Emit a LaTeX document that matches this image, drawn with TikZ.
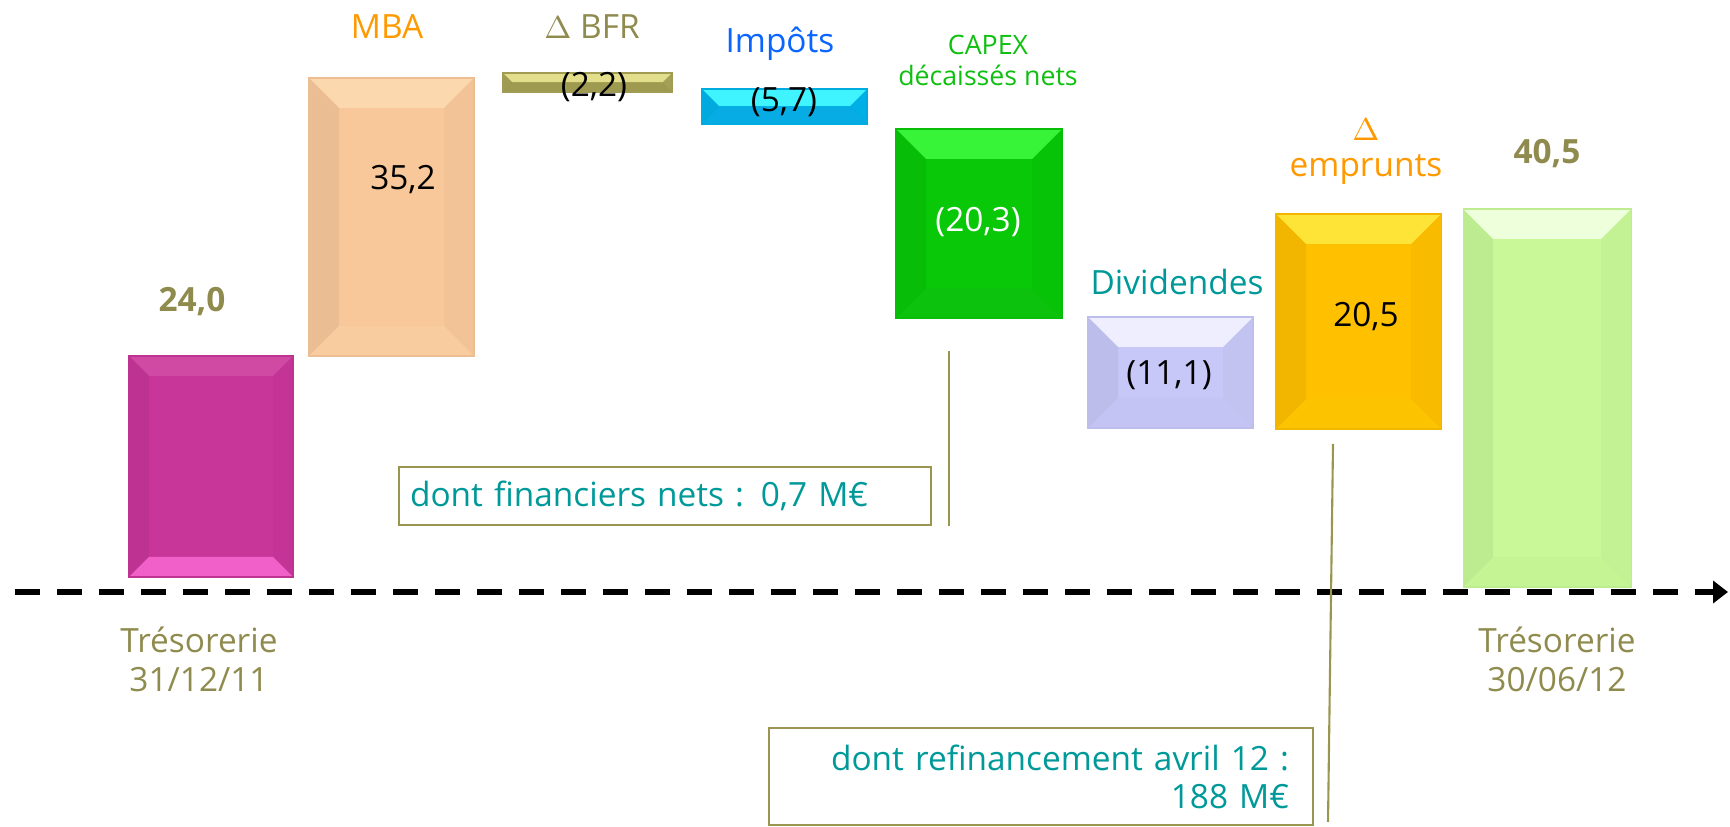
\documentclass[tikz,border=0pt]{standalone}
\usepackage{fontspec}
\setmainfont{Open Sans}
\usetikzlibrary{arrows.meta}
\definecolor{oliveTxt}{HTML}{8F8B4E}
\definecolor{oliveLine}{HTML}{9A9650}
\definecolor{orangeTxt}{HTML}{FF9900}
\definecolor{blueTxt}{HTML}{0A64FF}
\definecolor{greenTxt}{HTML}{10C010}
\definecolor{tealTxt}{HTML}{00999A}
\definecolor{pinkBar}{HTML}{C8369A}\definecolor{pinkTop}{HTML}{D04AA4}\definecolor{pinkBot}{HTML}{F060C8}
\definecolor{peachBar}{HTML}{F8C89A}\definecolor{peachTop}{HTML}{FCD8AE}\definecolor{peachBot}{HTML}{F9CCA0}
\definecolor{bfrBar}{HTML}{A8A458}\definecolor{bfrTop}{HTML}{E2DE8C}\definecolor{bfrBot}{HTML}{9E9A50}
\definecolor{cyanBar}{HTML}{00B4EC}\definecolor{cyanTop}{HTML}{40F4FF}\definecolor{cyanBot}{HTML}{08ACE4}
\definecolor{greenBar}{HTML}{08C808}\definecolor{greenTop}{HTML}{38F438}\definecolor{greenBot}{HTML}{0CC20C}
\definecolor{lavBar}{HTML}{C8C8F8}\definecolor{lavTop}{HTML}{EEEEFF}\definecolor{lavBot}{HTML}{C4C4F4}
\definecolor{goldBar}{HTML}{FFC000}\definecolor{goldTop}{HTML}{FFE438}\definecolor{goldBot}{HTML}{FCC400}
\definecolor{limeBar}{HTML}{C8F898}\definecolor{limeTop}{HTML}{EEFFDC}\definecolor{limeBot}{HTML}{C4F494}
\tikzset{
  bar/.style n args={4}{fill=#1, draw=#1!95!black, line width=0.3pt, anchor=south west,
    minimum width=1.65cm, inner sep=0pt, outer sep=0pt,
    path picture={
      \coordinate (sw) at (path picture bounding box.south west);
      \coordinate (ne) at (path picture bounding box.north east);
      \coordinate (nw) at (sw |- ne);
      \coordinate (se) at (ne |- sw);
      \fill[#2] (nw) -- (ne) -- ([shift={(-#4,-#4)}]ne) -- ([shift={(#4,-#4)}]nw) -- cycle;
      \fill[#3] (sw) -- (se) -- ([shift={(-#4,#4)}]se) -- ([shift={(#4,#4)}]sw) -- cycle;
      \fill[black, opacity=.05] (nw) -- ([shift={(#4,-#4)}]nw) -- ([shift={(#4,#4)}]sw) -- (sw) -- cycle;
      \fill[black, opacity=.025] (ne) -- ([shift={(-#4,-#4)}]ne) -- ([shift={(-#4,#4)}]se) -- (se) -- cycle;
    }},
  lbl/.style={font=\fontsize{9.5}{11}\selectfont, inner sep=0pt, anchor=base, align=center},
  note/.style={draw=oliveLine, line width=0.6pt, text=tealTxt, font=\fontsize{9.5}{10.8}\selectfont,
    anchor=north west, inner ysep=0pt},
  lead/.style={draw=oliveLine, line width=0.6pt},
  axis/.style={line width=1.6pt, dash pattern=on 0.25cm off 0.17cm, -{Triangle[length=0.15cm,width=0.22cm]}}
}
\begin{document}
\begin{tikzpicture}
\useasboundingbox (0,0) rectangle (17.30,8.26);
\node[bar={pinkBar}{pinkTop}{pinkBot}{0.2cm}, minimum width=1.64cm, minimum height=2.21cm] (t1) at (1.29,2.49) {};
\node[bar={peachBar}{peachTop}{peachBot}{0.3cm}, minimum height=2.78cm] (mba) at (3.09,4.70) {};
\node[bar={bfrBar}{bfrTop}{bfrBot}{0.09cm}, minimum width=1.69cm, minimum height=0.19cm] (bfr) at (5.03,7.34) {};
\node[bar={cyanBar}{cyanTop}{cyanBot}{0.17cm}, minimum height=0.35cm] (imp) at (7.02,7.02) {};
\node[bar={greenBar}{greenTop}{greenBot}{0.3cm}, minimum width=1.66cm, minimum height=1.89cm] (capex) at (8.96,5.08) {};
\node[bar={lavBar}{lavTop}{lavBot}{0.3cm}, minimum height=1.11cm] (div) at (10.88,3.98) {};
\node[bar={goldBar}{goldTop}{goldBot}{0.3cm}, minimum height=2.15cm] (emp) at (12.76,3.97) {};
\node[bar={limeBar}{limeTop}{limeBot}{0.3cm}, minimum width=1.68cm, minimum height=3.78cm] (t2) at (14.63,2.39) {};

\coordinate (ax0) at (0.15,2.34);
\coordinate (ax1) at (17.28,2.34);
\draw[axis] (ax0) -- (ax1);

\node[lbl, text=orangeTxt] (lmba) at (3.87,7.87) {MBA};
\node[lbl, text=oliveTxt] (lbfr) at (5.92,7.87) {$\Delta$ BFR};
\node[lbl, text=blueTxt] (limp) at (7.80,7.73) {Impôts};
\node[lbl, text=greenTxt, font=\fontsize{7.6}{9.1}\selectfont] (lcapex) at (9.88,7.40) {CAPEX\\décaissés nets};
\node[lbl, text=tealTxt] (ldiv) at (11.77,5.31) {Dividendes};
\node[lbl, text=orangeTxt, font=\fontsize{9.5}{10.5}\selectfont] (lemp) at (13.66,6.49) {$\Delta$\\emprunts};

\node[lbl, text=oliveTxt, font=\fontsize{9.5}{11}\selectfont\bfseries] (v1) at (1.92,5.14) {24,0};
\node[lbl] (v2) at (4.03,6.36) {35,2};
\node[lbl] (v3) at (5.94,7.29) {(2,2)};
\node[lbl] (v4) at (7.84,7.14) {(5,7)};
\node[lbl, text=white] (v5) at (9.78,5.94) {(20,3)};
\node[lbl] (v6) at (11.69,4.41) {(11,1)};
\node[lbl] (v7) at (13.66,4.99) {20,5};
\node[lbl, text=oliveTxt, font=\fontsize{9.5}{11}\selectfont\bfseries] (v8) at (15.47,6.62) {40,5};

\node[lbl, text=oliveTxt, font=\fontsize{9.5}{11.1}\selectfont] (d1) at (1.99,1.34) {Trésorerie\\31/12/11};
\node[lbl, text=oliveTxt, font=\fontsize{9.5}{11.1}\selectfont] (d2) at (15.57,1.34) {Trésorerie\\30/06/12};

\node[note, text width=5.10cm, align=left, minimum height=0.58cm, inner xsep=0.11cm] (fin) at (3.98,3.60) {dont financiers nets : 0,7 M€};
\node[note, text width=4.96cm, align=right, minimum height=0.97cm, inner xsep=0.24cm] (refi) at (7.68,0.99) {dont refinancement avril 12 :\\188 M€};

\coordinate (fin0) at (9.49,4.75);
\draw[lead] (fin0) -- (fin0 |- fin.south);
\coordinate (ref0) at (13.33,3.82);
\coordinate (ref1) at (13.28,0.04);
\draw[lead] (ref0) -- (ref1);
\end{tikzpicture}
\end{document}
